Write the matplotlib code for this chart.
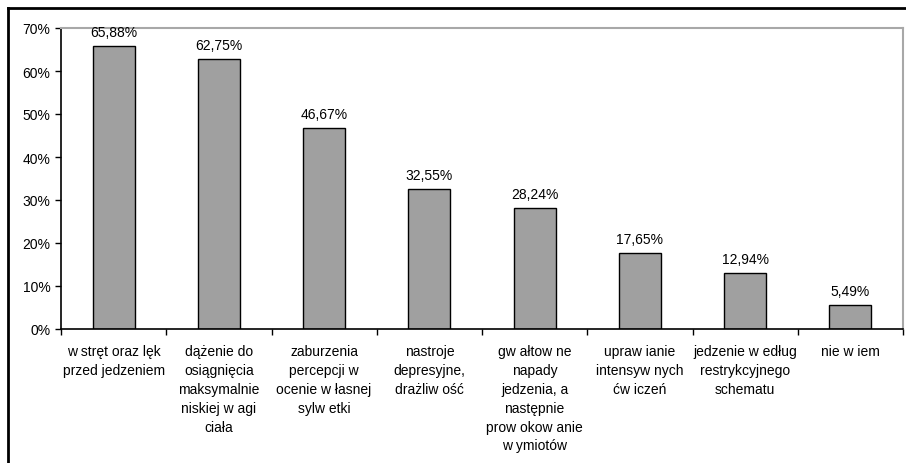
import matplotlib.pyplot as plt
from matplotlib.lines import Line2D
import numpy as np

plt.rcParams['font.family'] = ['Liberation Sans', 'DejaVu Sans']

categories = [
    "w stręt oraz lęk\nprzed jedzeniem",
    "dążenie do\nosiągnięcia\nmaksymalnie\nniskiej w agi\nciała",
    "zaburzenia\npercepcji w\nocenie w łasnej\nsylw etki",
    "nastroje\ndepresyjne,\ndrażliw ość",
    "gw ałtow ne\nnapady\njedzenia, a\nnastępnie\nprow okow anie\nw ymiotów",
    "upraw ianie\nintensyw nych\nćw iczeń",
    "jedzenie w edług\nrestrykcyjnego\nschematu",
    "nie w iem",
]
values = [65.88, 62.75, 46.67, 32.55, 28.24, 17.65, 12.94, 5.49]
yticks = [0, 10, 20, 30, 40, 50, 60, 70]

fig = plt.figure(figsize=(9.06, 4.64), dpi=100)
ax = fig.add_axes([61 / 906, 1 - 330 / 464, 842 / 906, 301 / 464])

x = np.arange(len(values))
bars = ax.bar(x, values, width=0.4, color='#a0a0a0', edgecolor='black', linewidth=1.0)

for xi, v in zip(x, values):
    ax.annotate(f"{v:.2f}%".replace('.', ','), (xi, v), xytext=(0, 5),
                textcoords='offset points', ha='center', va='bottom', fontsize=10)

ax.set_xlim(-0.5, len(values) - 0.5)
ax.set_ylim(0, 70)
ax.set_yticks(yticks)
ax.set_yticklabels([f"{t}%" for t in yticks], fontsize=10)

# category boundaries get the tick marks, labels sit under bar centres
ax.set_xticks(np.arange(len(values) + 1) - 0.5)
ax.set_xticklabels([])
ax.set_xticks(x, minor=True)
ax.set_xticklabels(categories, minor=True, fontsize=10, linespacing=1.44)
ax.tick_params(axis='x', which='major', direction='out', length=4, width=1)
ax.tick_params(axis='x', which='minor', length=0, pad=11)
ax.tick_params(axis='y', direction='out', length=4, width=1)

for side in ['top', 'right']:
    ax.spines[side].set_color('#a8a8a8')
    ax.spines[side].set_linewidth(1.5)
for side in ['left', 'bottom']:
    ax.spines[side].set_color('black')
    ax.spines[side].set_linewidth(1.2)

# outer frame, only left and top edges fall inside the image
fig.add_artist(Line2D([8 / 906, 8 / 906], [0, 1 - 9 / 464], color='black', lw=2,
                      transform=fig.transFigure))
fig.add_artist(Line2D([8 / 906, 1], [1 - 9 / 464, 1 - 9 / 464], color='black', lw=2,
                      transform=fig.transFigure))

fig.savefig('out.png', dpi=100)
